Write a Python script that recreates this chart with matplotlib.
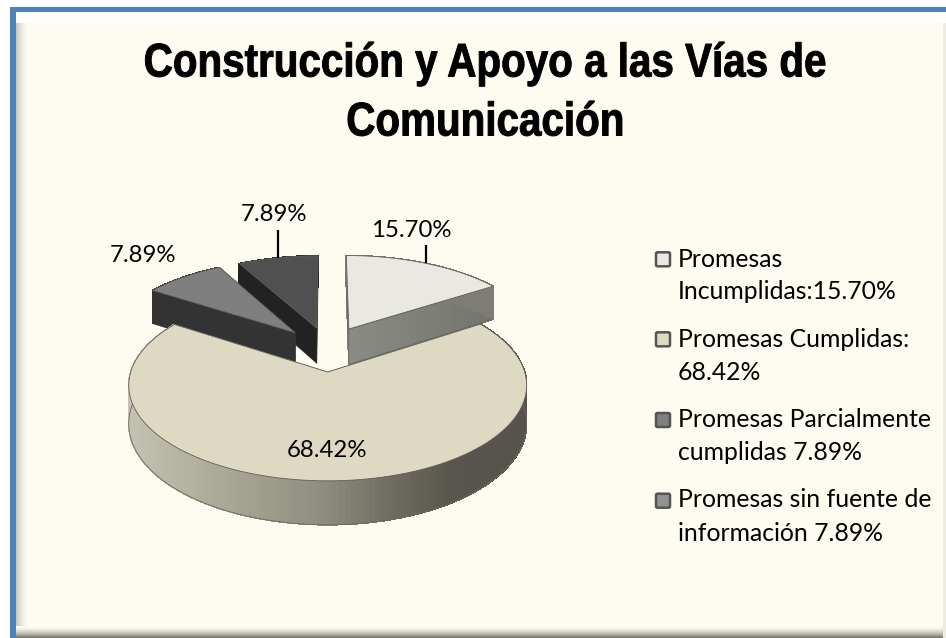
import numpy as np
import matplotlib
matplotlib.use("Agg")
import matplotlib.pyplot as plt
from matplotlib.patches import Polygon, FancyBboxPatch
from matplotlib.collections import PolyCollection
from matplotlib.colors import to_rgb
from matplotlib.patheffects import AbstractPathEffect
from matplotlib.transforms import Affine2D

# ---- data ----
categories = ["Promesas Incumplidas", "Promesas Cumplidas",
              "Promesas Parcialmente cumplidas", "Promesas sin fuente de información"]
values = [15.70, 68.42, 7.89, 7.89]
point_labels = ["15.70%", "68.42%", "7.89%", "7.89%"]
legend_labels = ["Promesas\nIncumplidas:15.70%", "Promesas Cumplidas:\n68.42%",
                 "Promesas Parcialmente\ncumplidas 7.89%", "Promesas sin fuente de\ninformación 7.89%"]
title_text = "Construcción y Apoyo a las Vías de\nComunicación"

top_colors = ["#eae8e2", "#ddd9c3", "#7f7f7f", "#505050"]
side_colors = ["#7d7d76", "#8e8c7c", "#333333", "#222222"]
legend_colors = ["#eae8e2", "#ddd9c3", "#7f7f7f", "#939393"]
explode_xy = [(0.1146, 0.491), (0.0, 0.0), (-0.175, 0.446), (-0.0593, 0.503)]
radius = [1.016, 1.0, 1.0, 1.0]

FONT = ["Lato", "DejaVu Sans"]
W, H = 946, 638
CX, CY, RX, RY, K, DEPTH = 327.7, 372.0, 197.0, 93.6, 0.14, 37.8

fig = plt.figure(figsize=(W / 100, H / 100), dpi=100, facecolor="white")
ax = fig.add_axes([0, 0, 1, 1])
ax.set_xlim(0, W)
ax.set_ylim(H, 0)
ax.axis("off")


class Squeeze(AbstractPathEffect):
    """Narrows a text horizontally about display x = cx and thickens it a little."""
    def __init__(self, cx, sx, stroke):
        super().__init__()
        self.cx, self.sx, self.stroke = cx, sx, stroke

    def draw_path(self, renderer, gc, tpath, affine, rgbFace=None):
        t = affine + Affine2D().translate(-self.cx, 0).scale(self.sx, 1).translate(self.cx, 0)
        gc0 = renderer.new_gc()
        gc0.copy_properties(gc)
        gc0.set_linewidth(self.stroke)
        gc0.set_foreground("black")
        renderer.draw_path(gc0, tpath, t, rgbFace)
        gc0.restore()


# ---- frame ----
bg = np.array(to_rgb("#fefbf0"))
img = np.ones((H, W, 3)) * bg
def blend(a, c, t):
    return a * (1 - t) + np.array(to_rgb(c)) * t
for i in range(11):      # left bevel
    img[:, 16 + i] = blend(bg, "#c9c7bb", (1 - i / 11) ** 1.5)
for i in range(12):      # bottom bevel
    img[626 + i, :] = blend(bg, "#77766f", (i / 11) ** 1.6)
for i in range(4):       # right bevel
    img[:, 942 + i] = blend(bg, "#e8e6da", 0.7)
img[12:23, 16:] = np.array([1, 1, 1])
img[:12, :] = 1
img[:, :10] = 1
img[7:12, 10:] = np.array(to_rgb("#4f81bd"))
img[7:, 10:16] = np.array(to_rgb("#4f81bd"))
ax.imshow(img, extent=(0, W, H, 0), aspect="auto", interpolation="nearest", zorder=0)

# ---- perspective pie ----
def project(x, y, down=0.0):
    d = 1 + K * y
    return CX + RX * x / d, CY + (-RY * y + down * DEPTH) / d

def ring(theta, off, r):
    return off[0] + r * np.sin(theta), off[1] + r * np.cos(theta)

def ramp(x, stops):
    xs = [s[0] for s in stops]
    cols = np.array([to_rgb(s[1]) for s in stops])
    return [float(np.interp(x, xs, cols[:, j])) for j in range(3)]

main_stops = [(129, "#c4c2b0"), (327, "#8e8c7c"), (400, "#6c6a60"), (450, "#58564e"), (526, "#55534b")]

edges = np.cumsum([0] + values) / sum(values) * 2 * np.pi
mids = (edges[:-1] + edges[1:]) / 2

def draw_slice(i, z):
    off, r = explode_xy[i], radius[i]
    th = np.linspace(edges[i], edges[i + 1], 160)
    ox, oy = ring(th, off, r)
    # cut faces
    for t in (edges[i], edges[i + 1]):
        ex, ey = ring(t, off, r)
        quad = [project(*off), project(ex, ey), project(ex, ey, 1), project(*off, 1)]
        if i == 0:
            xs = np.linspace(quad[0][0], quad[1][0], 41)
            ys0 = np.linspace(quad[0][1], quad[1][1], 41)
            ys1 = np.linspace(quad[3][1], quad[2][1], 41)
            polys, cols = [], []
            for a in range(40):
                polys.append([(xs[a], ys0[a]), (xs[a + 1], ys0[a + 1]), (xs[a + 1], ys1[a + 1]), (xs[a], ys1[a])])
                cols.append(ramp(xs[a], [(349, "#8b8b86"), (494, "#74746d")]))
            ax.add_collection(PolyCollection(polys, facecolors=cols, edgecolors=cols, linewidths=0.5,
                                             antialiaseds=False, zorder=z))
            ax.add_patch(Polygon(quad, closed=True, fill=False, ec="#66665f", lw=0.6, zorder=z))
        else:
            ax.add_patch(Polygon(quad, closed=True, fc=side_colors[i], ec=side_colors[i], lw=0.4, zorder=z))
    # outer wall
    polys, cols = [], []
    for a in range(len(th) - 1):
        p0, p1 = project(ox[a], oy[a]), project(ox[a + 1], oy[a + 1])
        q0, q1 = project(ox[a], oy[a], 1), project(ox[a + 1], oy[a + 1], 1)
        polys.append([p0, p1, q1, q0])
        cols.append(ramp(p0[0], main_stops) if i == 1 else to_rgb(side_colors[i]))
    ax.add_collection(PolyCollection(polys, facecolors=cols, edgecolors=cols, linewidths=0.5,
                                     antialiaseds=False, zorder=z))
    # top face
    pts = [project(*off)] + [project(a, b) for a, b in zip(ox, oy)]
    ax.add_patch(Polygon(pts, closed=True, fc=top_colors[i], ec="#5f5f58", lw=0.6, zorder=z + 0.5))
    # bottom outline of wall
    if i == 1:
        b = [project(a, c, 1) for a, c in zip(ox, oy)]
        b = [p for p in b if p[1] > CY + 10]
        ax.plot([p[0] for p in b], [p[1] for p in b], color="#6a685e", lw=0.6, zorder=z + 0.1)

for order, i in enumerate([3, 2, 0, 1]):
    draw_slice(i, 2 + order)

# ---- leader lines (from slice mid-angle on outer arc) ----
for i, length in ((0, 18), (3, 28)):
    px, py = project(*ring(mids[i], explode_xy[i], radius[i]))
    ax.plot([px, px], [py, py - length], color="black", lw=1.6, zorder=8, solid_capstyle="butt")

# ---- point labels ----
label_pos = [(411.7, 236.7), (326.7, 456.7), (143, 262.3), (274, 220.7)]
for txt, (x, y) in zip(point_labels, label_pos):
    ax.text(x, y, txt, fontsize=17.3, family=FONT, color="black", ha="center", va="baseline", zorder=9)

# ---- title ----
title_lines = title_text.split("\n")
for line, y in zip(title_lines, (76.5, 135.5)):
    t = ax.text(485.3, y, line, family="Liberation Sans", fontweight="bold", fontsize=34,
                ha="center", va="baseline", color="black", zorder=9)
    t.set_path_effects([Squeeze(485.3, 0.855, 0.7)])

# ---- legend ----
box_y = [259.3, 339.3, 420, 500.7]
line1_y = [266.7, 347, 426.7, 507]
line2_y = [299, 380, 460, 540.7]
for lab, col, yb, y1, y2 in zip(legend_labels, legend_colors, box_y, line1_y, line2_y):
    ax.add_patch(FancyBboxPatch((656, yb - 7), 14, 14, boxstyle="round,pad=0,rounding_size=1.5",
                                fc=col, ec="#555555", lw=1.8, zorder=9))
    a, b = lab.split("\n")
    ax.text(677.5, y1, a, fontsize=17.8, family=FONT, color="black", ha="left", va="baseline", zorder=9)
    ax.text(677.5, y2, b, fontsize=17.8, family=FONT, color="black", ha="left", va="baseline", zorder=9)

fig.savefig("out.png", dpi=100, facecolor="white")
